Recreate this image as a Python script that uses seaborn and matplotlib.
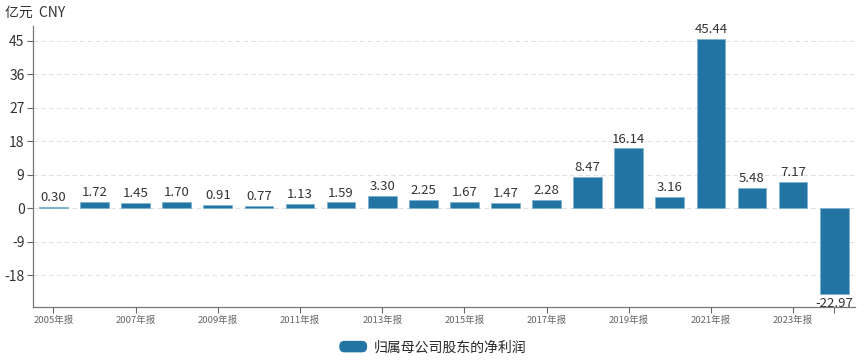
import matplotlib
matplotlib.use('Agg')
import numpy as np
import pandas as pd
import seaborn as sns
from matplotlib import pyplot as plt
from matplotlib.patches import Patch, FancyBboxPatch
from matplotlib.legend_handler import HandlerPatch

years = [f'{y}年报' for y in range(2005, 2025)]
profit = [0.30, 1.72, 1.45, 1.70, 0.91, 0.77, 1.13, 1.59, 3.30, 2.25,
          1.67, 1.47, 2.28, 8.47, 16.14, 3.16, 45.44, 5.48, 7.17, -22.97]
y_ticks = [-18, -9, 0, 9, 18, 27, 36, 45]
series_name = '归属母公司股东的净利润'

sns.set_theme(style='white')
plt.rcParams['font.family'] = ['Noto Sans CJK SC', 'DejaVu Sans']
plt.rcParams['axes.unicode_minus'] = False

bar_color = '#2275a2'
df = pd.DataFrame({'year': years, 'profit': profit})


class RoundHandler(HandlerPatch):
    # 圆角图例色块
    def create_artists(self, legend, orig_handle, xdescent, ydescent,
                       width, height, fontsize, trans):
        p = FancyBboxPatch((-xdescent, -ydescent), width, height,
                           boxstyle='round,pad=0,rounding_size=%f' % (height * 0.45),
                           facecolor=orig_handle.get_facecolor(),
                           edgecolor='none', transform=trans)
        return [p]


fig = plt.figure(figsize=(8.66, 3.6), dpi=100)
ax = fig.add_axes([0.038, 0.147, 0.949, 0.781])

sns.barplot(data=df, x='year', y='profit', color=bar_color, width=0.7,
            saturation=1, edgecolor='#7fb3d1', linewidth=0.6, ax=ax)

# 数值标签
labels = [f'{v:.2f}' for v in profit]
ax.bar_label(ax.containers[0], labels=labels, padding=2, fontsize=9.5, color='#333333')

ax.set_ylim(-26.5, 49)
ax.set_xlim(-0.5, len(years) - 0.5)
ax.set_yticks(y_ticks)
ax.set_yticklabels([str(t) for t in y_ticks], fontsize=10, color='#333333')

tick_pos = list(range(0, len(years), 2)) + [len(years) - 1]
tick_lab = [years[i] for i in range(0, len(years), 2)] + ['']
ax.set_xticks(tick_pos)
ax.set_xticklabels(tick_lab, fontsize=6.8, color='#666666')
ax.tick_params(axis='both', which='both', length=4, width=0.8, color='#666666',
               bottom=True, left=True, pad=2)
ax.set_xlabel('')
ax.set_ylabel('')

ax.yaxis.grid(True, linestyle=(0, (4, 3)), color='#e0e0e0', linewidth=0.8)
ax.set_axisbelow(True)
for s in ['top', 'right']:
    ax.spines[s].set_visible(False)
for s in ['left', 'bottom']:
    ax.spines[s].set_color('#777777')
    ax.spines[s].set_linewidth(0.9)

fig.text(0.006, 0.965, '亿元  CNY', fontsize=10, color='#333333', va='center')

fig.legend(handles=[Patch(facecolor=bar_color, label=series_name)],
           handler_map={Patch: RoundHandler()},
           loc='center', bbox_to_anchor=(0.5, 0.035), frameon=False,
           fontsize=10, handlelength=2.0, handleheight=0.9, handletextpad=0.5)

fig.savefig('out.png', dpi=100)
